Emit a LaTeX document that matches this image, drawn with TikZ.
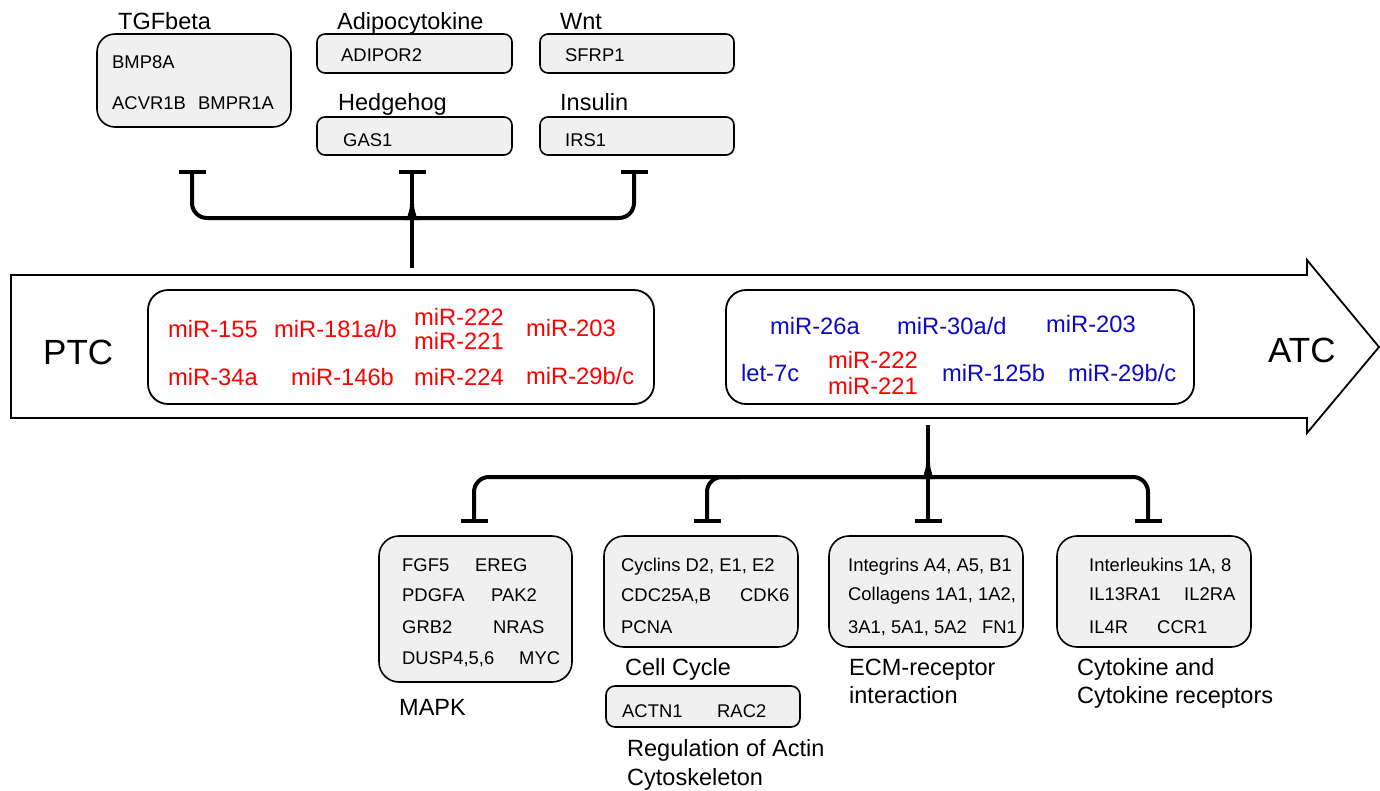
\documentclass[tikz,border=0pt]{standalone}
\usepackage{fontspec}
\setmainfont{Liberation Sans}
\definecolor{boxgray}{RGB}{240,240,240}
\definecolor{mirred}{RGB}{255,0,0}
\definecolor{mirblue}{RGB}{10,10,200}
\tikzset{
  gbox/.style={draw=black, line width=1.6pt, fill=boxgray, inner sep=0pt},
  wbox/.style={draw=black, line width=1.8pt, fill=white, inner sep=0pt, rounded corners=20pt},
  gene/.style={font=\fontsize{18.4}{22}\selectfont, anchor=west, inner sep=0pt, text height=13.2pt, text depth=0pt},
  mir/.style={font=\fontsize{23.7}{28}\selectfont, anchor=west, inner sep=0pt, text height=17pt, text depth=0pt},
  redmir/.style={mir, text=mirred},
  bluemir/.style={mir, text=mirblue},
  cat/.style={font=\fontsize{23.5}{28}\selectfont, anchor=west, inner sep=0pt, text height=16.8pt, text depth=0pt},
  big/.style={font=\fontsize{35}{40}\selectfont, anchor=west, inner sep=0pt, text height=25pt, text depth=0pt},
  conn/.style={draw=black, line width=4pt, rounded corners=15pt},
  tbar/.style={draw=black, line width=4.5pt},
}
\begin{document}
\begin{tikzpicture}[x=1pt, y=-1pt]
\useasboundingbox (0,0) rectangle (1380,790);

% ---------- top boxes ----------
\node[gbox, rounded corners=18pt, minimum width=194pt, minimum height=93pt] (tgf) at (194,80.5) {};
\node[gbox, rounded corners=8pt, minimum width=195pt, minimum height=39pt] (adipo) at (414.5,53.5) {};
\node[gbox, rounded corners=8pt, minimum width=194pt, minimum height=39pt] (wnt) at (637,53.5) {};
\node[gbox, rounded corners=8pt, minimum width=195pt, minimum height=38pt] (hedge) at (414.5,136) {};
\node[gbox, rounded corners=8pt, minimum width=194pt, minimum height=38pt] (ins) at (637,136) {};

\node[cat] (lTGF) at (118,21) {TGFbeta};
\node[cat] (lAdipo) at (337,21) {Adipocytokine};
\node[cat] (lWnt) at (560,21) {Wnt};
\node[cat] (lHedge) at (338,102) {Hedgehog};
\node[cat] (lIns) at (560,102) {Insulin};

\node[gene] (gBMP8A) at (112,62) {BMP8A};
\node[gene] (gACVR) at (112,103) {ACVR1B};
\node[gene] (gBMPR) at (198,103) {BMPR1A};
\node[gene] (gADIPOR) at (341,55) {ADIPOR2};
\node[gene] (gSFRP) at (565,55) {SFRP1};
\node[gene] (gGAS) at (343,140) {GAS1};
\node[gene] (gIRS) at (565,140) {IRS1};

% ---------- big arrow ----------
\draw[line width=1.8pt, line join=miter] (11,275) -- (1307,275) -- (1307,260) -- (1379,347) -- (1307,433) -- (1307,418) -- (11,418) -- cycle;
\node[big] (PTC) at (43,352) {PTC};
\node[big] (ATC) at (1268,350) {ATC};

\node[wbox, minimum width=506pt, minimum height=114pt] (ptcbox) at (401,347) {};
\node[wbox, minimum width=468pt, minimum height=114pt] (atcbox) at (960,347) {};

\node[redmir] (p1) at (168,329) {miR-155};
\node[redmir] (p2) at (274,329) {miR-181a/b};
\node[redmir] (p3a) at (414,317) {miR-222};
\node[redmir] (p3b) at (414,341) {miR-221};
\node[redmir] (p4) at (526,328) {miR-203};
\node[redmir] (p5) at (168,377) {miR-34a};
\node[redmir] (p6) at (291,377) {miR-146b};
\node[redmir] (p7) at (414,377) {miR-224};
\node[redmir] (p8) at (526,376) {miR-29b/c};

\node[bluemir] (a1) at (770,326) {miR-26a};
\node[bluemir] (a2) at (897,326) {miR-30a/d};
\node[bluemir] (a3) at (1046,324) {miR-203};
\node[bluemir] (a4) at (741,373) {let-7c};
\node[redmir] (a5a) at (828,360) {miR-222};
\node[redmir] (a5b) at (828,386) {miR-221};
\node[bluemir] (a6) at (942,373) {miR-125b};
\node[bluemir] (a7) at (1068,373) {miR-29b/c};

% ---------- top connector ----------
\coordinate (t1) at (192,172);
\coordinate (t2) at (412,172);
\coordinate (t3) at (634,172);
\coordinate (ptop) at (412,268);
\draw[conn] (t1) |- (396,218) .. controls (407,218) and (412,214) .. (412,204);
\draw[conn] (t3) |- (428,218) .. controls (417,218) and (412,214) .. (412,204);
\draw[conn] (t2) -- (ptop);
\draw[tbar] ([xshift=-13.5pt]t1) -- ([xshift=13.5pt]t1);
\draw[tbar] ([xshift=-13.5pt]t2) -- ([xshift=13.5pt]t2);
\draw[tbar] ([xshift=-13.5pt]t3) -- ([xshift=13.5pt]t3);

% ---------- bottom connector ----------
\coordinate (pbot) at (928,425);
\coordinate (b1) at (474,521);
\coordinate (b2) at (707,521);
\coordinate (b3) at (928,521);
\coordinate (b4) at (1148,521);
\draw[conn] (b1) |- (912,477) .. controls (923,477) and (928,473) .. (928,463);
\draw[conn] (b2) |- (740,477);
\draw[conn] (b4) |- (944,477) .. controls (933,477) and (928,473) .. (928,463);
\draw[conn] (pbot) -- (b3);
\draw[tbar] ([xshift=-13.5pt]b1) -- ([xshift=13.5pt]b1);
\draw[tbar] ([xshift=-13.5pt]b2) -- ([xshift=13.5pt]b2);
\draw[tbar] ([xshift=-13.5pt]b3) -- ([xshift=13.5pt]b3);
\draw[tbar] ([xshift=-13.5pt]b4) -- ([xshift=13.5pt]b4);

% ---------- bottom boxes ----------
\node[gbox, rounded corners=20pt, minimum width=193pt, minimum height=146pt] (mapk) at (475.5,609) {};
\node[gbox, rounded corners=20pt, minimum width=194pt, minimum height=111pt] (cell) at (701,591.5) {};
\node[gbox, rounded corners=9pt, minimum width=194pt, minimum height=41pt] (actin) at (703,706.5) {};
\node[gbox, rounded corners=20pt, minimum width=194pt, minimum height=111pt] (ecm) at (926,591.5) {};
\node[gbox, rounded corners=20pt, minimum width=194pt, minimum height=111pt] (cyto) at (1154,591.5) {};

\node[gene] (m1) at (402,565) {FGF5};
\node[gene] (m2) at (475,565) {EREG};
\node[gene] (m3) at (402,595) {PDGFA};
\node[gene] (m4) at (491,595) {PAK2};
\node[gene] (m5) at (402,627) {GRB2};
\node[gene] (m6) at (493,627) {NRAS};
\node[gene] (m7) at (402,658) {DUSP4,5,6};
\node[gene] (m8) at (519,658) {MYC};
\node[cat] (lMAPK) at (399,707) {MAPK};

\node[gene] (c1) at (621,565) {Cyclins D2, E1, E2};
\node[gene] (c2) at (621,595) {CDC25A,B};
\node[gene] (c3) at (740,595) {CDK6};
\node[gene] (c4) at (621,627) {PCNA};
\node[cat] (lCell) at (625,667) {Cell Cycle};

\node[gene] (r1) at (622,711) {ACTN1};
\node[gene] (r2) at (717,711) {RAC2};
\node[cat] (lAct1) at (627,748) {Regulation of Actin};
\node[cat] (lAct2) at (627,777) {Cytoskeleton};

\node[gene] (e1) at (848,565) {Integrins A4, A5, B1};
\node[gene] (e2) at (848,594) {Collagens 1A1, 1A2,};
\node[gene] (e3) at (848,627) {3A1, 5A1, 5A2};
\node[gene] (e4) at (982,627) {FN1};
\node[cat] (lECM1) at (849,667) {ECM-receptor};
\node[cat] (lECM2) at (849,695) {interaction};

\node[gene] (k1) at (1089,565) {Interleukins 1A, 8};
\node[gene] (k2) at (1089,594) {IL13RA1};
\node[gene] (k3) at (1184,594) {IL2RA};
\node[gene] (k4) at (1089,627) {IL4R};
\node[gene] (k5) at (1157,627) {CCR1};
\node[cat] (lCyt1) at (1077,667) {Cytokine and};
\node[cat] (lCyt2) at (1077,695) {Cytokine receptors};
\end{tikzpicture}
\end{document}
